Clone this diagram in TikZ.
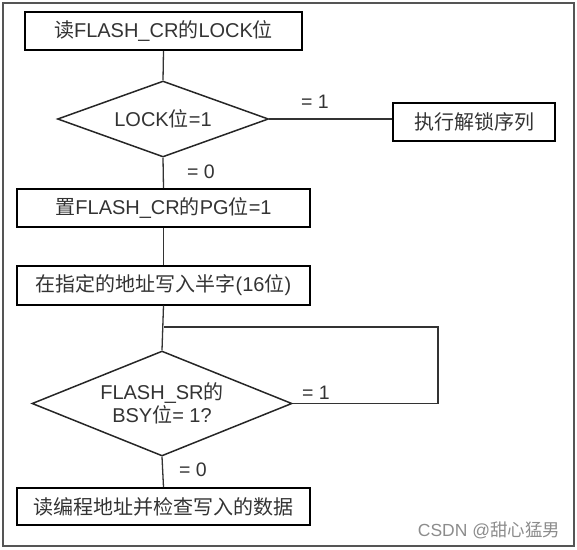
\documentclass[tikz,border=0pt]{standalone}
\usepackage{fontspec}
\setmainfont{Liberation Sans}
\newfontfamily\cjk{Noto Sans CJK SC}[Scale=1.0]
\usetikzlibrary{shapes.geometric}
\newcommand\zh[1]{{\cjk #1}}
\definecolor{txt}{HTML}{333333}
\definecolor{frame}{HTML}{555555}
\tikzset{
  stepbox/.style={draw=black, line width=2pt, inner sep=0pt, text=txt,
    font=\fontsize{20}{23}\selectfont},
  decide/.style={draw=black!85, line width=1.5pt, shape=diamond, inner sep=0pt},
  dtext/.style={text=txt, font=\fontsize{20}{23.5}\selectfont, align=center, inner sep=0pt},
  conn/.style={draw=black!80, line width=1.3pt},
  lbl/.style={text=txt, font=\fontsize{19.5}{22}\selectfont, inner sep=0pt},
  wm/.style={text=black!45, font=\fontsize{17.5}{20}\selectfont, inner sep=0pt},
}
\begin{document}
\begin{tikzpicture}[x=1pt,y=-1pt]
\useasboundingbox (0,0) rectangle (577,549);
\draw[frame, line width=1.5pt] (3,3) rectangle (574,546);

\node[stepbox, minimum width=277pt, minimum height=38pt] (b1) at (163.5,31) {\zh{读}FLASH\_CR\zh{的}LOCK\zh{位}};
\node[decide, minimum width=211pt, minimum height=76pt] (d1) at (163,119) {};
\node[dtext] (t1) at (d1.center) {LOCK\zh{位}=1};
\node[stepbox, minimum width=162pt, minimum height=38pt] (b2) at (474,122) {\zh{执行解锁序列}};
\node[stepbox, minimum width=293pt, minimum height=38pt] (b3) at (163.5,208) {\zh{置}FLASH\_CR\zh{的}PG\zh{位}=1};
\node[stepbox, minimum width=293pt, minimum height=39pt] (b4) at (163.5,285) {\zh{在指定的地址写入半字}(16\zh{位})};
\node[decide, minimum width=260pt, minimum height=105pt] (d2) at (162,403.5) {};
\node[dtext] (t2) at (d2.center) {FLASH\_SR\zh{的}\\BSY\zh{位}= 1?};
\node[stepbox, minimum width=293pt, minimum height=37pt] (b5) at (163.5,506.5) {\zh{读编程地址并检查写入的数据}};

\coordinate (j) at (163.5,327);
\coordinate (r) at (438,327);

\draw[conn] (b1.south) -- (d1.north);
\draw[conn] (d1.east) -- (d1.east -| b2.west);
\draw[conn] (d1.south) -- (b3.north);
\draw[conn] (b3.south) -- (b4.north);
\draw[conn] (b4.south) -- (d2.north);
\draw[conn] (d2.east) -| (r) -- (j);
\draw[conn] (d2.south) -- (b5.north);

\node[lbl] (l1) at (315,102) {= 1};
\node[lbl] (l2) at (201,172) {= 0};
\node[lbl] (l3) at (316,393) {= 1};
\node[lbl] (l4) at (193,470) {= 0};

\node[wm] (w) at (489,530) {CSDN @\zh{甜心猛男}};
\end{tikzpicture}
\end{document}
